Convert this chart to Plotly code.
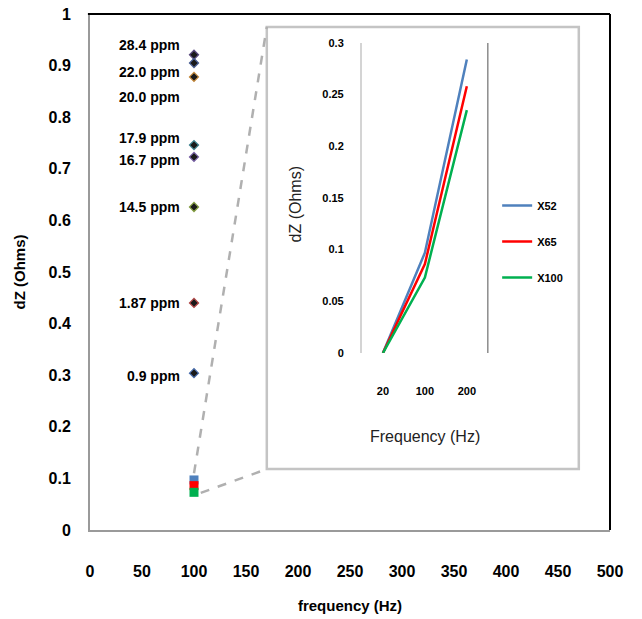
import plotly.graph_objects as go

# ---- main chart data ----
conc_labels = ["28.4 ppm", "22.0 ppm", "20.0 ppm", "17.9 ppm", "16.7 ppm", "14.5 ppm", "1.87 ppm", "0.9 ppm"]
point_freq = [100, 100, 100, 100, 100, 100, 100, 100]
point_dz = [0.921, 0.905, 0.878, 0.746, 0.723, 0.626, 0.440, 0.304]
point_colors = ["#5b4a80", "#4a5f96", "#c88a3a", "#3f8592", "#7a62a8", "#86a043", "#b44848", "#4a6fb0"]
label_yshift = [10, -9, -20, 7, -3, 0, 0, -3]

# ---- inset data ----
inset_freq = ["20", "100", "200"]
x52 = [0.0, 0.097, 0.284]
x65 = [0.0, 0.086, 0.258]
x100 = [0.0, 0.073, 0.235]
series_names = ["X52", "X65", "X100"]
series_colors = ["#4f81bd", "#ff0000", "#00b050"]

BOLD = "Liberation Sans Narrow, Liberation Sans, Arial, sans-serif"
REG = "Liberation Sans, Arial, sans-serif"

fig = go.Figure()

# main diamonds
for f, v, c in zip(point_freq, point_dz, point_colors):
    fig.add_trace(go.Scatter(x=[f], y=[v], mode="markers", showlegend=False,
                             marker=dict(symbol="diamond", size=7, color="#1a1a1a",
                                         line=dict(color=c, width=1.2)),
                             xaxis="x", yaxis="y"))

# main squares at 100 Hz (inset values)
for vals, c in zip([x52, x65, x100], series_colors):
    fig.add_trace(go.Scatter(x=[100], y=[vals[1]], mode="markers", showlegend=False,
                             marker=dict(symbol="square", size=9, color=c, line=dict(width=0)),
                             xaxis="x", yaxis="y"))

# inset lines
for vals, name, c in zip([x52, x65, x100], series_names, series_colors):
    fig.add_trace(go.Scatter(x=inset_freq, y=vals, mode="lines", name=name,
                             legendgroup=name,
                             line=dict(color=c, width=2.5),
                             xaxis="x2", yaxis="y2"))

# point labels
annotations = []
for lab, f, v, ys in zip(conc_labels, point_freq, point_dz, label_yshift):
    annotations.append(dict(x=f, y=v, xref="x", yref="y", text=lab, showarrow=False,
                            xanchor="right", yanchor="middle", xshift=-12, yshift=ys,
                            font=dict(family=BOLD, size=14, color="black", weight="bold")))

# inset titles
annotations.append(dict(x=0.5, y=-0.27, xref="x2 domain", yref="y2 domain", text="Frequency (Hz)",
                        showarrow=False, xanchor="center", yanchor="middle",
                        font=dict(family=REG, size=16, color="#222")))
annotations.append(dict(x=-0.53, y=0.48, xref="x2 domain", yref="y2 domain", text="dZ (Ohms)",
                        showarrow=False, textangle=-90, xanchor="center", yanchor="middle",
                        font=dict(family=REG, size=16, color="#222")))

shapes = [
    # inset box
    dict(type="rect", xref="paper", yref="paper", x0=0.340, x1=0.940, y0=0.118, y1=0.975,
         line=dict(color="#c4c4c4", width=2.5), fillcolor="white", layer="below"),
    # right border of inset plot area
    dict(type="line", xref="x2 domain", yref="y2 domain", x0=1, x1=1, y0=0, y1=1,
         line=dict(color="#8c8c8c", width=1.5)),
    # main frame top and right (black)
    dict(type="line", xref="paper", yref="paper", x0=-0.004, x1=1, y0=1, y1=1,
         line=dict(color="black", width=2)),
    dict(type="line", xref="paper", yref="paper", x0=1, x1=1, y0=0, y1=1,
         line=dict(color="black", width=2)),
    # dashed connectors
    dict(type="line", xref="paper", yref="paper", x0=0.2, x1=0.340, y0=0.110, y1=0.975,
         line=dict(color="#b0b0b0", width=2.5, dash="dash")),
    dict(type="line", xref="paper", yref="paper", x0=0.213, x1=0.340, y0=0.072, y1=0.118,
         line=dict(color="#b0b0b0", width=2.5, dash="dash")),
]

fig.update_layout(
    width=642, height=619,
    margin=dict(l=90, r=32, t=14, b=89),
    paper_bgcolor="white", plot_bgcolor="white",
    xaxis=dict(domain=[0, 1], range=[0, 500], dtick=50, tick0=0, showgrid=False, zeroline=False,
               automargin=False, ticklabeloverflow="allow",
               showline=True, linecolor="#9a9a9a", linewidth=2, ticks="",
               ticklabelstandoff=26,
               tickfont=dict(family=BOLD, size=16, color="black", weight="bold"),
               title=dict(text="frequency (Hz)", standoff=21,
                          font=dict(family=BOLD, size=15, color="black", weight="bold"))),
    yaxis=dict(domain=[0, 1], range=[0, 1], dtick=0.1, tick0=0, showgrid=False, zeroline=False,
               automargin=False, ticklabeloverflow="allow",
               showline=True, linecolor="#9a9a9a", linewidth=2, ticks="",
               ticklabelstandoff=14,
               tickfont=dict(family=BOLD, size=16, color="black", weight="bold"),
               title=dict(text="dZ (Ohms)", standoff=19,
                          font=dict(family=BOLD, size=15, color="black", weight="bold"))),
    xaxis2=dict(domain=[0.523, 0.765], anchor="y2", type="category", range=[-0.5, 2.5],
                automargin=False,
                showgrid=False, zeroline=False, showline=False, ticks="",
                ticklabelstandoff=30,
                tickfont=dict(family=BOLD, size=11, color="black", weight="bold")),
    yaxis2=dict(domain=[0.343, 0.944], anchor="x2", range=[0, 0.3], dtick=0.05,
                automargin=False,
                showgrid=False, zeroline=False, showline=True, linecolor="#d4d4d4", linewidth=2,
                ticks="", ticklabelstandoff=14,
                tickfont=dict(family=BOLD, size=11, color="black", weight="bold")),
    legend=dict(x=0.783, y=0.657, xanchor="left", yanchor="top", bgcolor="rgba(0,0,0,0)",
                tracegroupgap=17, itemwidth=30,
                font=dict(family=BOLD, size=11, color="black", weight="bold")),
    annotations=annotations,
    shapes=shapes,
)

fig.write_html("out.html", config={"displayModeBar": False},
               post_script="document.body.style.margin='0';")
